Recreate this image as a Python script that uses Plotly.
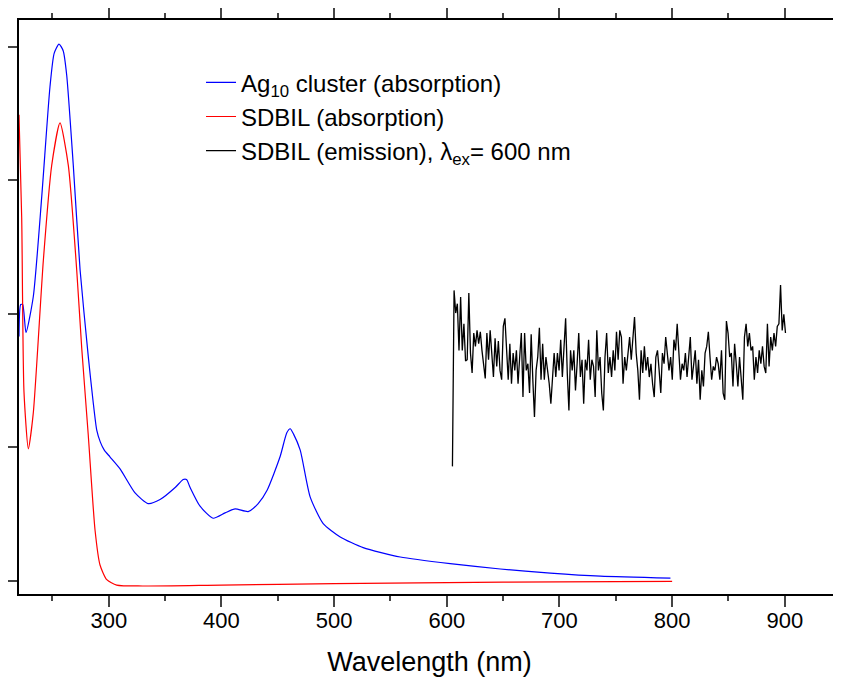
import numpy as np
import plotly.graph_objects as go

# Ag10 cluster absorption (wavelength nm, absorbance a.u.)
ag10_wl = [220.3, 221.8, 223.6, 226.5, 233, 240.5, 247.8, 251.5, 255.8, 259.5, 262.6, 268.5,
           274.5, 281.8, 286, 289.3, 292.5, 296, 301, 310, 323.3, 334.9, 345.5, 358.9, 366,
           369, 372.2, 381, 392.6, 403.2, 412.1, 423.7, 432.6, 440.5, 452, 458, 461, 464,
           469.9, 478.7, 490.3, 505.4, 525.8, 558.7, 603, 647.5, 691.9, 736.3, 798.5]
ag10_abs = [1.83, 2.07, 2.07, 1.86, 2.13, 2.88, 3.70, 3.95, 4.02, 3.97, 3.79, 3.11,
            2.33, 1.68, 1.35, 1.13, 1.04, 0.98, 0.93, 0.84, 0.66, 0.58, 0.61, 0.70, 0.76,
            0.76, 0.70, 0.56, 0.47, 0.51, 0.54, 0.52, 0.58, 0.68, 0.93, 1.11, 1.14, 1.10,
            0.98, 0.63, 0.43, 0.33, 0.25, 0.18, 0.13, 0.09, 0.06, 0.037, 0.022]

# SDBIL absorption
sdbil_wl = [220.3, 222.7, 224.7, 228.6, 233, 241.9, 249.3, 256.7, 264.1, 271.5, 276, 281.8,
            287.8, 292.2, 298.2, 307, 330, 400, 500, 600, 700, 800]
sdbil_abs = [3.49, 2.72, 1.42, 0.99, 1.26, 2.40, 3.11, 3.43, 3.11, 2.33, 1.74, 1.09,
             0.38, 0.12, 0.01, -0.03, -0.037, -0.03, -0.02, -0.012, -0.006, -0.002]

# SDBIL emission (lambda_ex = 600 nm), intensity a.u., from 605 to ~900 nm
emission_start, emission_end = 605, 900.6
emission_int = [86, 218, 201, 208, 173, 213, 173, 193, 165, 166, 216, 171, 156, 186, 176, 188,
                178, 187, 173, 161, 152, 186, 166, 188, 168, 153, 182, 161, 180, 158, 151, 191,
                197, 173, 151, 178, 148, 171, 158, 173, 148, 168, 186, 138, 186, 158, 163, 141,
                185, 151, 123, 158, 168, 190, 151, 178, 151, 168, 158, 148, 133, 151, 171, 153,
                171, 158, 181, 153, 171, 197, 156, 128, 173, 158, 173, 143, 163, 186, 153, 166,
                133, 166, 158, 181, 151, 166, 161, 138, 188, 158, 168, 141, 128, 168, 186, 156,
                168, 153, 173, 158, 187, 166, 188, 183, 148, 168, 158, 173, 183, 166, 181, 198,
                171, 158, 136, 173, 156, 176, 158, 168, 153, 163, 148, 138, 168, 173, 158, 141,
                171, 163, 183, 171, 158, 168, 151, 181, 173, 193, 168, 151, 163, 158, 171, 153,
                168, 183, 151, 163, 173, 148, 166, 136, 158, 146, 171, 176, 187, 168, 151, 161,
                158, 168, 163, 151, 173, 141, 136, 195, 186, 168, 171, 146, 178, 163, 146, 168,
                148, 136, 183, 193, 176, 186, 173, 176, 151, 168, 156, 173, 163, 176, 161, 156,
                193, 161, 183, 173, 186, 176, 191, 193, 222, 188, 200, 186]
emission_wl = np.linspace(emission_start, emission_end, len(emission_int))

x_ticks = [300, 400, 500, 600, 700, 800, 900]

FONT = "Arial, Liberation Sans, sans-serif"

fig = go.Figure()
fig.add_trace(go.Scatter(x=ag10_wl, y=ag10_abs, mode="lines",
                         line=dict(color="#0000ff", width=1.2, shape="spline", smoothing=0.6),
                         name="Ag<sub>10</sub> cluster (absorption)"))
fig.add_trace(go.Scatter(x=sdbil_wl, y=sdbil_abs, mode="lines",
                         line=dict(color="#ff0000", width=1.2, shape="spline", smoothing=0.6),
                         name="SDBIL (absorption)"))
fig.add_trace(go.Scatter(x=emission_wl, y=emission_int, mode="lines", yaxis="y2",
                         line=dict(color="#000000", width=1.3),
                         name="SDBIL (emission), λ<sub>ex</sub>= 600 nm"))

fig.update_layout(
    width=833, height=673,
    margin=dict(l=11, r=1, t=12, b=87),
    paper_bgcolor="white", plot_bgcolor="white",
    font=dict(family=FONT, color="black"),
    showlegend=True,
    legend=dict(x=0.2217, y=0.93, xanchor="left", yanchor="top",
                bgcolor="rgba(0,0,0,0)", font=dict(size=24, family=FONT),
                tracegroupgap=0),
    xaxis=dict(range=[220.3, 949], tickvals=x_ticks, ticks="outside", ticklen=11, tickwidth=2,
               showline=True, linewidth=2, linecolor="black", mirror="ticks",
               showgrid=False, zeroline=False, tickfont=dict(size=22, family=FONT),
               automargin=False, ticklabelstandoff=-5,
               minor=dict(dtick=50, tick0=250, ticks="outside", ticklen=5, tickwidth=2, showgrid=False),
               title=dict(text="Wavelength (nm)", font=dict(size=27, family=FONT), standoff=20)),
    yaxis=dict(range=[-0.097, 4.2], tickvals=[0, 1, 2, 3, 4], ticks="outside", ticklen=11,
               tickwidth=2, showticklabels=False, showline=True, linewidth=2, linecolor="black",
               mirror=True, showgrid=False, zeroline=False, automargin=False),
    yaxis2=dict(range=[-9.72, 420.8], overlaying="y", side="right", visible=False,
                showgrid=False, zeroline=False),
)

fig.write_html("out.html")
